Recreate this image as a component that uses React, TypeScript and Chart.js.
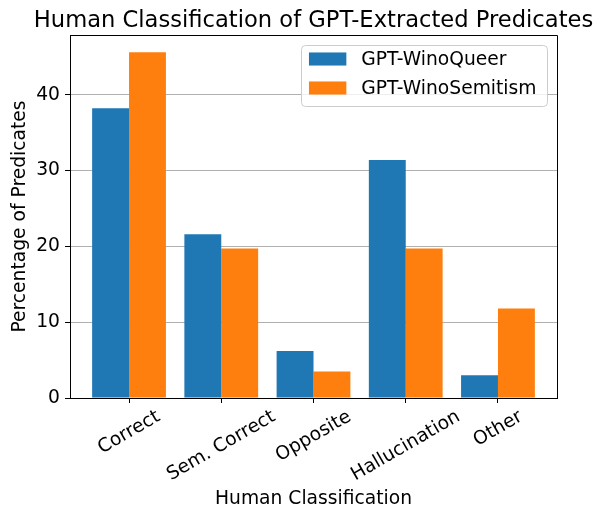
import React, { useEffect, useRef } from "react";
import { Chart, registerables } from "chart.js";

Chart.register(...registerables);

const title = "Human Classification of GPT-Extracted Predicates";
const categories = ["Correct", "Sem. Correct", "Opposite", "Hallucination", "Other"];
const seriesNames = ["GPT-WinoQueer", "GPT-WinoSemitism"];
const winoQueer = [38.2, 21.6, 6.2, 31.4, 3.0];
const winoSemitism = [45.6, 19.7, 3.5, 19.7, 11.8];
const yTicks = [0, 10, 20, 30, 40];
const colors = ["#1f77b4", "#ff7f0e"];

const FONT = "'DejaVu Sans', sans-serif";
const BASE = 18.7;

const framePlugin = {
  id: "frameAndLabels",
  afterDatasetsDraw(chart: any) {
    const { ctx, chartArea: ca } = chart;
    const xs = chart.scales.x;
    ctx.save();
    // frame (top/right spines)
    ctx.strokeStyle = "#000";
    ctx.lineWidth = 1;
    ctx.beginPath();
    ctx.moveTo(Math.round(ca.left) + 0.5, Math.round(ca.top) + 0.5);
    ctx.lineTo(Math.round(ca.right) + 0.5, Math.round(ca.top) + 0.5);
    ctx.lineTo(Math.round(ca.right) + 0.5, Math.round(ca.bottom) + 0.5);
    ctx.stroke();

    // title centered over plot area
    ctx.font = `${BASE * 1.21}px ${FONT}`;
    ctx.fillStyle = "#000";
    ctx.textAlign = "center";
    ctx.textBaseline = "alphabetic";
    ctx.fillText(title, (ca.left + ca.right) / 2, ca.top - 8.3);

    // rotated x tick labels (centered under ticks, like matplotlib)
    ctx.font = `${BASE}px ${FONT}`;
    ctx.textAlign = "center";
    ctx.textBaseline = "middle";
    const ang = Math.PI / 6;
    categories.forEach((lab, i) => {
      const x = xs.getPixelForValue(i);
      const w = ctx.measureText(lab).width;
      const h = BASE * 1.164;
      const bh = w * Math.sin(ang) + h * Math.cos(ang);
      const y = ca.bottom + 8 + bh / 2;
      ctx.save();
      ctx.translate(x, y);
      ctx.rotate(-ang);
      ctx.fillText(lab, 0, 0);
      ctx.restore();
    });

    // legend
    ctx.font = `${BASE}px ${FONT}`;
    const maxW = Math.max(...seriesNames.map((s) => ctx.measureText(s).width));
    const padX = 9;
    const handleLen = BASE * 2;
    const handleH = BASE * 0.7;
    const gap = BASE * 0.8;
    const fRight = ca.right - 10;
    const fTop = ca.top + 10;
    const fW = padX * 2 + handleLen + gap + maxW;
    const fH = 61;
    const fLeft = fRight - fW;
    ctx.beginPath();
    ctx.roundRect(Math.round(fLeft) + 0.5, Math.round(fTop) + 0.5, Math.round(fW), fH, 4);
    ctx.fillStyle = "rgba(255,255,255,0.8)";
    ctx.fill();
    ctx.strokeStyle = "#cccccc";
    ctx.lineWidth = 1;
    ctx.stroke();
    seriesNames.forEach((s, i) => {
      const cy = fTop + 14 + i * 29;
      ctx.fillStyle = colors[i];
      ctx.fillRect(fLeft + padX - 1.5, cy - handleH / 2, handleLen, handleH);
      ctx.fillStyle = "#000";
      ctx.textAlign = "left";
      ctx.textBaseline = "middle";
      ctx.fillText(s, fLeft + padX - 1.5 + handleLen + gap, cy + 1);
    });
    ctx.restore();
  },
};

export default function App() {
  const ref = useRef<HTMLCanvasElement | null>(null);
  useEffect(() => {
    if (!ref.current) return;
    Chart.defaults.font.family = FONT;
    const chart = new Chart(ref.current, {
      type: "bar",
      data: {
        datasets: [
          {
            label: seriesNames[0],
            data: winoQueer.map((v, i) => ({ x: i, y: v })),
            backgroundColor: colors[0],
            borderWidth: 0,
          },
          {
            label: seriesNames[1],
            data: winoSemitism.map((v, i) => ({ x: i, y: v })),
            backgroundColor: colors[1],
            borderWidth: 0,
          },
        ],
      },
      plugins: [framePlugin],
      options: {
        animation: false,
        responsive: false,
        maintainAspectRatio: false,
        layout: { padding: { top: 35, right: 41, bottom: 0, left: 0 } },
        datasets: { bar: { categoryPercentage: 0.8, barPercentage: 1.0 } },
        plugins: {
          legend: { display: false },
          tooltip: { enabled: false },
          title: { display: false },
        },
        scales: {
          x: {
            type: "linear",
            min: -0.64,
            max: 4.64,
            offset: false,
            afterBuildTicks: (axis: any) => {
              axis.ticks = categories.map((_, i) => ({ value: i }));
            },
            afterFit: (scale: any) => {
              scale.height = 110;
            },
            ticks: { display: false },
            grid: {
              offset: false,
              drawOnChartArea: false,
              drawTicks: true,
              tickLength: 5,
              tickColor: "#000",
              tickWidth: 1,
            },
            border: { display: true, color: "#000", width: 1 },
            title: {
              display: true,
              text: "Human Classification",
              color: "#000",
              font: { family: FONT, size: BASE, lineHeight: 1 },
              padding: { top: 0, bottom: 0 },
            },
          },
          y: {
            type: "linear",
            min: 0,
            max: 47.87,
            afterBuildTicks: (axis: any) => {
              axis.ticks = yTicks.map((v) => ({ value: v }));
            },
            afterFit: (scale: any) => {
              scale.width = 70;
            },
            ticks: {
              color: "#000",
              font: { family: FONT, size: BASE },
              padding: 5,
              includeBounds: false,
            },
            grid: {
              color: "#b0b0b0",
              lineWidth: 1,
              drawTicks: true,
              tickLength: 5,
              tickColor: "#000",
              tickWidth: 1,
            },
            border: { display: true, color: "#000", width: 1 },
            title: {
              display: true,
              text: "Percentage of Predicates",
              color: "#000",
              font: { family: FONT, size: BASE, lineHeight: 1 },
              padding: { top: 11, bottom: 0 },
            },
          },
        },
      },
    });
    return () => chart.destroy();
  }, []);
  return (
    <div style={{ position: "fixed", left: 0, top: 0, width: 598, height: 508, background: "#fff" }}>
      <canvas ref={ref} width={598} height={508} style={{ width: 598, height: 508, display: "block" }} />
    </div>
  );
}
